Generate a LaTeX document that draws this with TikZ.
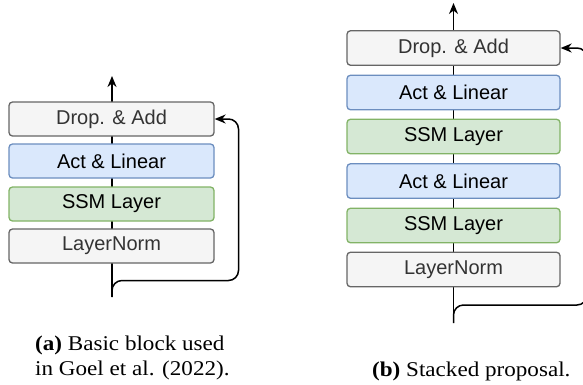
\documentclass[tikz,border=0pt]{standalone}
\usepackage{fontspec}
\setmainfont{Liberation Serif}
\newfontfamily\boxfont{Liberation Sans}
\usetikzlibrary{arrows.meta,backgrounds}
\definecolor{grayfill}{HTML}{F5F5F5}
\definecolor{graydraw}{HTML}{666666}
\definecolor{graytext}{HTML}{333333}
\definecolor{bluefill}{HTML}{DAE8FC}
\definecolor{bluedraw}{HTML}{6C8EBF}
\definecolor{greenfill}{HTML}{D5E8D4}
\definecolor{greendraw}{HTML}{82B366}
\tikzset{
  blk/.style={rounded corners=3.5pt, line width=1.3pt, inner sep=0pt,
    font=\boxfont\fontsize{20}{24}\selectfont},
  blkL/.style={blk, minimum width=205pt, minimum height=34pt},
  blkR/.style={blk, minimum width=213pt, minimum height=34.5pt},
  grayb/.style={fill=grayfill, draw=graydraw, text=graytext},
  blueb/.style={fill=bluefill, draw=bluedraw, text=black},
  greenb/.style={fill=greenfill, draw=greendraw, text=black},
  flow/.style={line width=1.5pt, -{Stealth[length=11pt,width=9pt,inset=3.5pt]}},
  skip/.style={flow, rounded corners=10pt},
  captext/.style={inner sep=0pt, anchor=base west, font=\fontsize{21}{24}\selectfont}
}
\begin{document}
\begin{tikzpicture}[x=1pt,y=-1pt]
\useasboundingbox (0,0) rectangle (583,384);
\clip (0,0) rectangle (583,384);
% left column
\node[blkL,grayb]  (lDrop) at (111.5,119) {Drop. \& Add};
\node[blkL,blueb]  (lAct)  at (111.5,161) {Act \& Linear};
\node[blkL,greenb] (lSSM)  at (111.5,204) {SSM Layer};
\node[blkL,grayb]  (lLN)   at (111.5,246) {LayerNorm};
\coordinate (lIn)  at (112,297);
\coordinate (lOut) at (112,76);
\begin{scope}[on background layer]
\draw[flow] (lIn) -- (lOut);
\end{scope}
\draw[skip] (lIn) -- (112,280.5) -- (238.5,280.5) -- (238.5,119) -- (lDrop.east);
% right column
\node[blkR,grayb]  (rDrop) at (453.5,48)    {Drop. \& Add};
\node[blkR,blueb]  (rAct2) at (453.5,92.5)  {Act \& Linear};
\node[blkR,greenb] (rSSM2) at (453.5,136.5) {SSM Layer};
\node[blkR,blueb]  (rAct1) at (453.5,181)   {Act \& Linear};
\node[blkR,greenb] (rSSM1) at (453.5,225.5) {SSM Layer};
\node[blkR,grayb]  (rLN)   at (453.5,269.5) {LayerNorm};
\coordinate (rIn)  at (453.5,323);
\coordinate (rOut) at (453.5,3);
\begin{scope}[on background layer]
\draw[flow] (rIn) -- (rOut);
\end{scope}
\draw[skip] (rIn) -- (453.5,305) -- (587,305) -- (587,48) -- (rDrop.east);
% captions
\node[captext] (capA1) at (35,350) {\scalebox{1.1}[1]{\textbf{(a)} Basic block used}};
\node[captext] (capA2) at (35,375) {\scalebox{1.1}[1]{in Goel et al. (2022).}};
\node[captext] (capB)  at (372,376) {\scalebox{1.1}[1]{\textbf{(b)} Stacked proposal.}};
\end{tikzpicture}
\end{document}
